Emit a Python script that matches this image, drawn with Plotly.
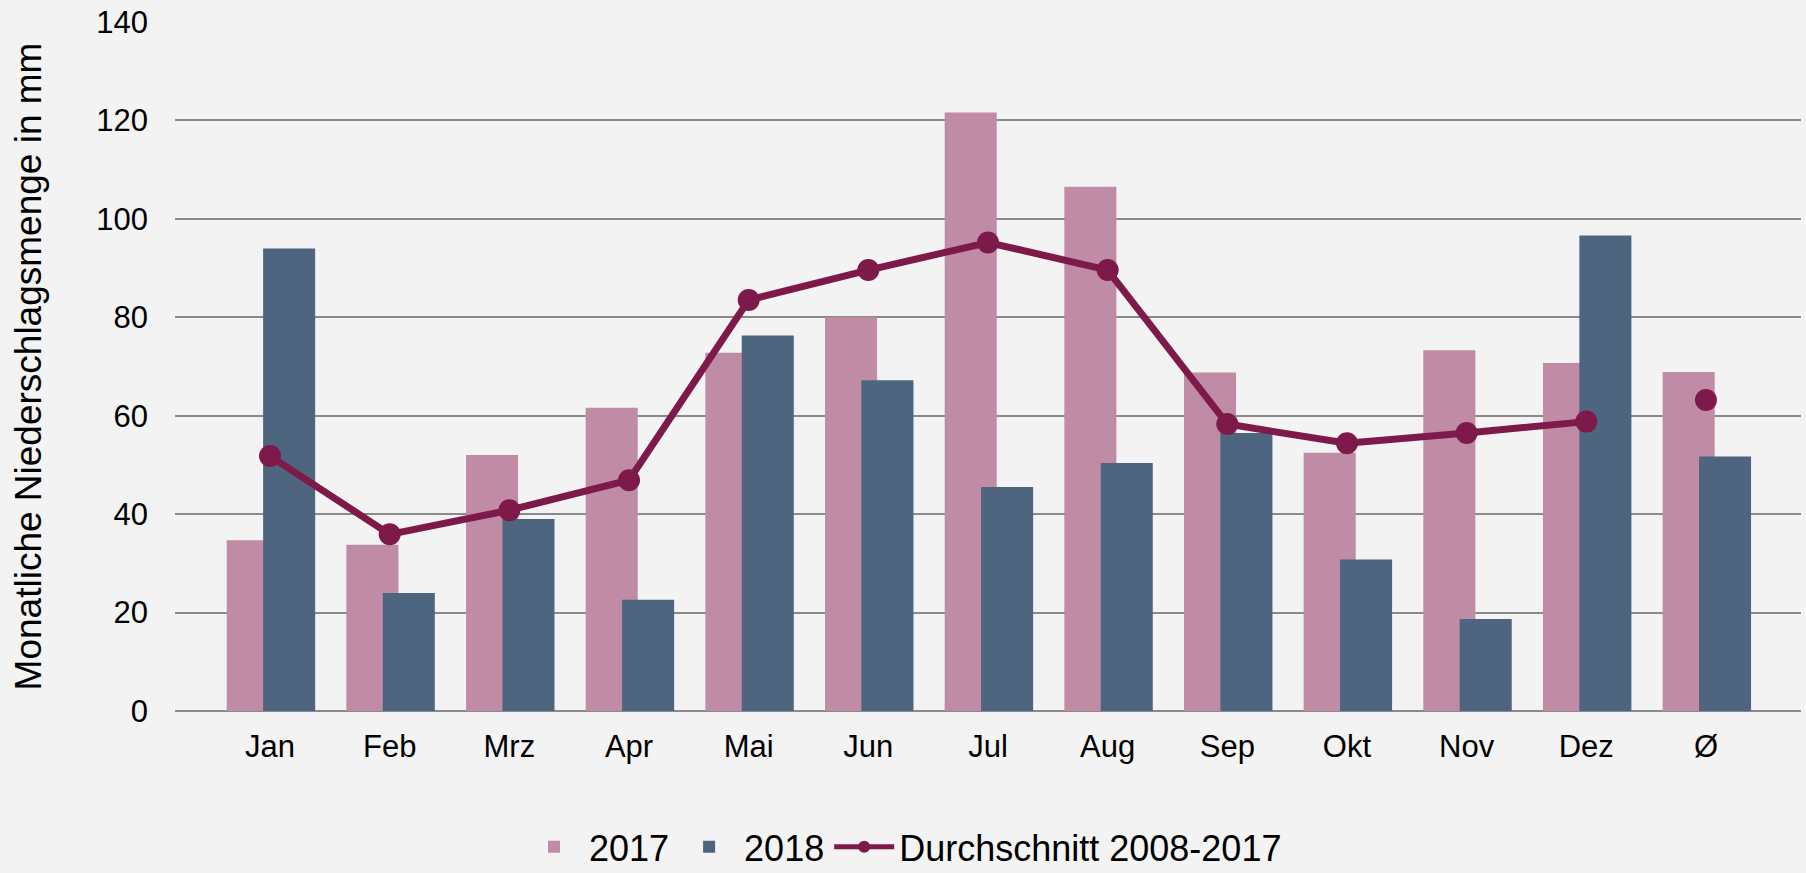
import plotly.graph_objects as go

months = ["Jan", "Feb", "Mrz", "Apr", "Mai", "Jun", "Jul", "Aug", "Sep", "Okt", "Nov", "Dez", "Ø"]
v2017 = [34.7, 33.8, 52.0, 61.6, 72.8, 80.0, 121.6, 106.5, 68.8, 52.5, 73.3, 70.7, 68.9]
v2018 = [94.0, 24.0, 39.0, 22.6, 76.3, 67.2, 45.5, 50.4, 56.5, 30.8, 18.7, 96.6, 51.7]
avg_months = ["Jan", "Feb", "Mrz", "Apr", "Mai", "Jun", "Jul", "Aug", "Sep", "Okt", "Nov", "Dez"]
avg_vals = [51.8, 35.9, 40.8, 46.9, 83.5, 89.6, 95.2, 89.6, 58.3, 54.4, 56.5, 58.8]
avg_overall_cat = ["Ø"]
avg_overall = [63.2]

c2017 = "#bf8ba5"
c2018 = "#4e6580"
cavg = "#7d1a4a"
font_family = "Liberation Sans, Arial, sans-serif"

fig = go.Figure()
fig.add_trace(go.Bar(x=months, y=v2017, name="2017", marker_color=c2017,
                     width=0.435, offset=-0.362, marker_line_width=0))
fig.add_trace(go.Bar(x=months, y=v2018, name="2018", marker_color=c2018,
                     width=0.435, offset=-0.058, marker_line_width=0))
fig.add_trace(go.Scatter(x=avg_months, y=avg_vals, name="Durchschnitt 2008-2017",
                         mode="lines+markers", line=dict(color=cavg, width=7),
                         marker=dict(color=cavg, size=22)))
fig.add_trace(go.Scatter(x=avg_overall_cat, y=avg_overall, mode="markers",
                         marker=dict(color=cavg, size=22), showlegend=False))

fig.update_layout(
    width=1806, height=873,
    barmode="overlay",
    paper_bgcolor="#f3f3f3", plot_bgcolor="#f3f3f3",
    margin=dict(l=175, r=5, t=19, b=162),
    font=dict(family=font_family, color="#000000", size=32),
    legend=dict(orientation="h", xref="container", yref="container",
                x=0.5, xanchor="center", y=0.03, yanchor="middle",
                font=dict(size=36), itemsizing="constant", itemwidth=60,
                bgcolor="rgba(0,0,0,0)", traceorder="normal"),
    xaxis=dict(type="category", categoryorder="array", categoryarray=months,
               showgrid=False, showline=False, zeroline=False, ticks="",
               tickfont=dict(size=31), ticklabelstandoff=14),
    yaxis=dict(range=[0, 140], dtick=20, showgrid=True, gridcolor="#8a8a8a",
               gridwidth=2, zeroline=True, zerolinecolor="#8a8a8a", zerolinewidth=2,
               showline=False, ticks="", tickfont=dict(size=31),
               ticklabelstandoff=26,
               title=dict(text="Monatliche Niederschlagsmenge in mm",
                          font=dict(size=37), standoff=43)),
)

fig.write_html("out.html", config={"displayModeBar": False},
               post_script="document.body.style.margin='0';document.body.style.overflow='hidden';")
